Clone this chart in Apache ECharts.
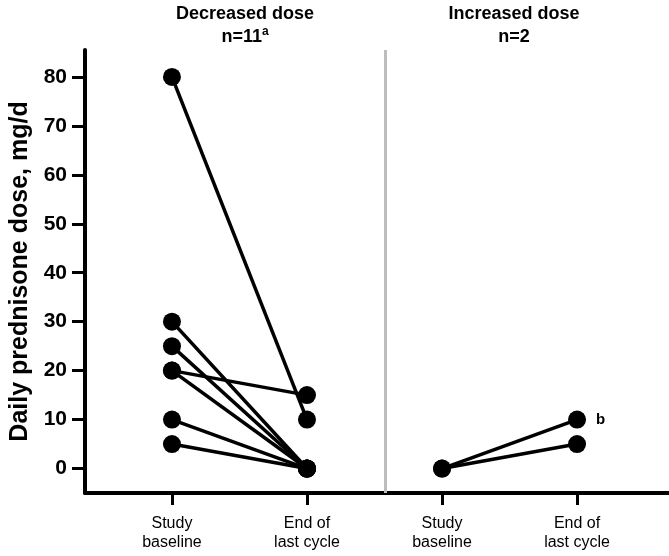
<!DOCTYPE html>
<html>
<head>
<meta charset="utf-8">
<script src="https://cdn.jsdelivr.net/npm/echarts@6/dist/echarts.min.js"></script>
<style>html,body{margin:0;padding:0;background:#fff}#c{width:669px;height:556px}</style>
</head>
<body>
<div id="c"></div>
<script>
// x positions: 0/1 = decreased panel (baseline/end), 2/3 = increased panel
var categories = ['Study\nbaseline', 'End of\nlast cycle', 'Study\nbaseline', 'End of\nlast cycle'];
var panelTitles = ['Decreased dose', 'Increased dose'];
var panelN = ['n=11', 'n=2'];
var yTicks = [0, 10, 20, 30, 40, 50, 60, 70, 80];
var decBaseline = [80, 30, 25, 20, 20, 10, 5];
var decEnd = [10, 0, 0, 15, 0, 0, 0];
var incBaseline = [0, 0];
var incEnd = [10, 5];
var incNotes = ['b', ''];

var FONT = '"Liberation Sans", Arial, Helvetica, sans-serif';
var series = [];
function addLine(x0, x1, a, b, note) {
  var d = [[x0, a], [x1, b]];
  if (note) {
    d[1] = {value: [x1, b], label: {show: true, position: 'right', distance: 10, formatter: note,
      fontFamily: FONT, fontWeight: 'bold', fontSize: 15, color: '#000'}};
  }
  series.push({type: 'line', data: d, symbol: 'circle', symbolSize: 18,
    lineStyle: {color: '#000', width: 3.5}, itemStyle: {color: '#000'}, z: 3, silent: true,
    label: {show: false}});
}
decBaseline.forEach(function (v, i) { addLine(0, 1, v, decEnd[i]); });
incBaseline.forEach(function (v, i) { addLine(2, 3, v, incEnd[i], incNotes[i]); });
series.push({type: 'line', data: [], markLine: {silent: true, symbol: 'none', label: {show: false},
  lineStyle: {color: '#bdbdbd', width: 3, type: 'solid'}, data: [{xAxis: 1.578}]}});

var chart = echarts.init(document.getElementById('c'));
chart.setOption({
  animation: false,
  grid: {left: 85, right: 0, top: 50, bottom: 63, containLabel: false, outerBoundsMode: 'none'},
  title: [
    {text: panelTitles[0] + '\n{n|' + panelN[0] + '}{sup|a}', left: 240, top: -2, textAlign: 'center',
      textStyle: {fontFamily: FONT, fontWeight: 'bold', fontSize: 18, color: '#000', lineHeight: 23,
        rich: {n: {fontFamily: FONT, fontWeight: 'bold', fontSize: 18, color: '#000', lineHeight: 23},
               sup: {fontFamily: FONT, fontWeight: 'bold', fontSize: 12, color: '#000', verticalAlign: 'top', lineHeight: 16, padding: [0,0,8,0]}}}},
    {text: panelTitles[1] + '\n' + panelN[1], left: 509, top: -2, textAlign: 'center',
      textStyle: {fontFamily: FONT, fontWeight: 'bold', fontSize: 18, color: '#000', lineHeight: 23}}
  ],
  xAxis: {
    type: 'value', min: -0.644, max: 3.681,
    splitLine: {show: false},
    axisLine: {onZero: false, lineStyle: {color: '#000', width: 4}},
    axisTick: {customValues: [0, 1, 2, 3], length: 12, lineStyle: {color: '#000', width: 3}},
    axisLabel: {customValues: [0, 1, 2, 3], margin: 21, fontFamily: FONT, fontSize: 16, color: '#000', lineHeight: 19,
      formatter: function (v) { return categories[Math.round(v)]; }}
  },
  yAxis: {
    type: 'value', min: -5, max: 85.5,
    name: 'Daily prednisone dose, mg/d', nameLocation: 'middle', nameGap: 52,
    nameTextStyle: {fontFamily: FONT, fontWeight: 'bold', fontSize: 25, color: '#000'},
    splitLine: {show: false},
    axisLine: {onZero: false, lineStyle: {color: '#000', width: 4}},
    axisTick: {customValues: yTicks, length: 13, lineStyle: {color: '#000', width: 3}},
    axisLabel: {customValues: yTicks, margin: 18, fontFamily: FONT, fontWeight: 'bold', fontSize: 21, color: '#000'}
  },
  series: series
});
</script>
</body>
</html>
